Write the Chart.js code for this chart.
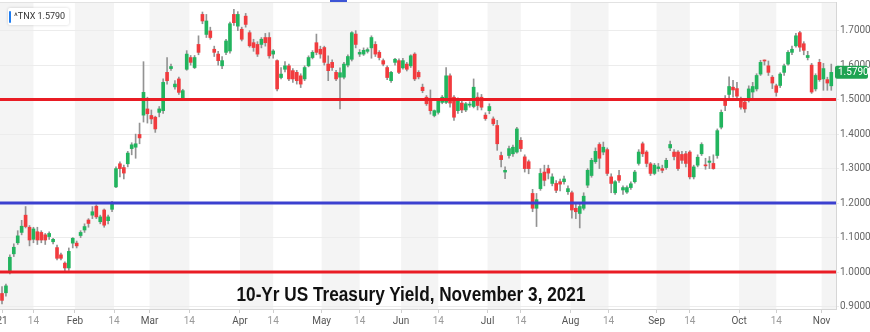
<!DOCTYPE html>
<html>
<head>
<meta charset="utf-8">
<script src="https://cdn.jsdelivr.net/npm/chart.js@4/dist/chart.umd.min.js"></script>
<style>
  body { margin: 0; background: #fff; }
  #wrap { position: relative; width: 870px; height: 332px; overflow: hidden; }
  #legend {
    position: absolute; left: 8px; top: 8px; height: 17px; padding: 0 4px 0 6px;
    background: #fff; box-shadow: 0 0 3px rgba(0,0,0,0.18); border-radius: 2px;
    font: 9px Roboto, sans-serif; color: #333; line-height: 17px; white-space: pre;
  }
  #legend .tag { position: absolute; left: 1px; top: 3px; width: 2px; height: 12px; background: #1e7cf0; border-radius: 1px; }
  #title {
    position: absolute; left: 411px; top: 283px; white-space: nowrap;
    font: bold 20px "Liberation Sans", Arial, sans-serif; color: #111;
    transform: translateX(-50%) scaleX(0.86);
  }
  #topmark { position: absolute; left: 330px; top: 0; width: 17px; height: 2px; background: #3d55d6; }
</style>
</head>
<body>
<div id="wrap">
  <canvas id="chart" width="870" height="332"></canvas>
  <div id="legend"><span class="tag"></span></div>
  <div id="title">10-Yr US Treasury Yield, November 3, 2021</div>
  <div id="topmark"></div>
</div>
<script>
// trading days, Jan 4 - Nov 3 2021 (MM-DD)
const dates = (
  '01-04 01-05 01-06 01-07 01-08 01-11 01-12 01-13 01-14 01-15 01-19 01-20 01-21 01-22 01-25 01-26 01-27 01-28 01-29 ' +
  '02-01 02-02 02-03 02-04 02-05 02-08 02-09 02-10 02-11 02-12 02-16 02-17 02-18 02-19 02-22 02-23 02-24 02-25 02-26 ' +
  '03-01 03-02 03-03 03-04 03-05 03-08 03-09 03-10 03-11 03-12 03-15 03-16 03-17 03-18 03-19 03-22 03-23 03-24 03-25 03-26 03-29 03-30 03-31 ' +
  '04-01 04-05 04-06 04-07 04-08 04-09 04-12 04-13 04-14 04-15 04-16 04-19 04-20 04-21 04-22 04-23 04-26 04-27 04-28 04-29 04-30 ' +
  '05-03 05-04 05-05 05-06 05-07 05-10 05-11 05-12 05-13 05-14 05-17 05-18 05-19 05-20 05-21 05-24 05-25 05-26 05-27 05-28 ' +
  '06-01 06-02 06-03 06-04 06-07 06-08 06-09 06-10 06-11 06-14 06-15 06-16 06-17 06-18 06-21 06-22 06-23 06-24 06-25 06-28 06-29 06-30 ' +
  '07-01 07-02 07-06 07-07 07-08 07-09 07-12 07-13 07-14 07-15 07-16 07-19 07-20 07-21 07-22 07-23 07-26 07-27 07-28 07-29 07-30 ' +
  '08-02 08-03 08-04 08-05 08-06 08-09 08-10 08-11 08-12 08-13 08-16 08-17 08-18 08-19 08-20 08-23 08-24 08-25 08-26 08-27 08-30 08-31 ' +
  '09-01 09-02 09-03 09-07 09-08 09-09 09-10 09-13 09-14 09-15 09-16 09-17 09-20 09-21 09-22 09-23 09-24 09-27 09-28 09-29 09-30 ' +
  '10-01 10-04 10-05 10-06 10-07 10-08 10-11 10-12 10-13 10-14 10-15 10-18 10-19 10-20 10-21 10-22 10-25 10-26 10-27 10-28 10-29 ' +
  '11-01 11-02 11-03'
).split(' ');

const open = [
  .938,.940,1.000,1.053,1.085,1.115,1.165,1.130,1.095,1.117,1.115,1.108,1.103,1.088,1.071,1.050,1.026,1.012,1.084,
  1.084,1.106,1.122,1.151,1.165,1.191,1.146,1.180,1.149,1.182,1.247,1.314,1.303,1.314,1.358,1.362,1.399,1.455,1.473,
  1.454,1.449,1.463,1.468,1.579,1.590,1.537,1.560,1.502,1.588,1.622,1.593,1.660,1.747,1.689,1.699,1.646,1.632,1.598,1.637,1.641,1.747,1.713,
  1.704,1.742,1.694,1.665,1.660,1.660,1.680,1.680,1.632,1.613,1.564,1.588,1.598,1.584,1.579,1.569,1.560,1.598,1.622,1.665,1.646,
  1.651,1.603,1.608,1.579,1.565,1.565,1.600,1.617,1.690,1.632,1.632,1.640,1.650,1.660,1.637,1.613,1.593,1.555,1.608,1.613,
  1.592,1.603,1.598,1.632,1.579,1.536,1.507,1.497,1.454,1.463,1.492,1.492,1.569,1.507,1.468,1.490,1.470,1.484,1.480,1.507,1.507,1.455,
  1.468,1.444,1.425,1.338,1.290,1.338,1.343,1.348,1.382,1.334,1.320,1.228,1.185,1.242,1.290,1.300,1.257,1.257,1.262,1.262,1.233,
  1.230,1.185,1.170,1.185,1.252,1.280,1.320,1.370,1.348,1.355,1.276,1.230,1.280,1.238,1.232,1.245,1.262,1.315,1.372,1.348,1.314,1.286,
  1.300,1.300,1.303,1.360,1.348,1.348,1.341,1.343,1.348,1.276,1.310,1.343,1.310,1.318,1.315,1.338,1.420,1.497,1.515,1.536,1.532,
  1.497,1.493,1.497,1.522,1.531,1.574,1.613,1.598,1.565,1.540,1.541,1.579,1.603,1.637,1.656,1.694,1.662,1.622,1.600,1.531,1.608,
  1.560,1.558,1.540
];
const high = [
  .958,.965,1.050,1.082,1.120,1.150,1.190,1.135,1.130,1.130,1.120,1.112,1.117,1.098,1.078,1.055,1.030,1.070,1.100,
  1.090,1.120,1.140,1.155,1.190,1.195,1.165,1.183,1.165,1.205,1.305,1.320,1.310,1.350,1.375,1.400,1.432,1.610,1.507,
  1.470,1.452,1.480,1.560,1.622,1.603,1.555,1.565,1.530,1.642,1.628,1.628,1.685,1.754,1.747,1.710,1.655,1.640,1.625,1.675,1.725,1.762,1.755,
  1.710,1.750,1.700,1.675,1.668,1.680,1.692,1.694,1.645,1.615,1.593,1.610,1.603,1.590,1.585,1.575,1.598,1.627,1.642,1.690,1.655,
  1.655,1.627,1.615,1.585,1.592,1.608,1.630,1.697,1.700,1.645,1.650,1.650,1.685,1.668,1.642,1.618,1.598,1.582,1.620,1.618,
  1.620,1.608,1.630,1.636,1.584,1.545,1.512,1.528,1.470,1.500,1.512,1.593,1.575,1.512,1.505,1.500,1.492,1.494,1.560,1.520,1.515,1.462,
  1.488,1.450,1.440,1.348,1.305,1.365,1.368,1.420,1.390,1.340,1.325,1.240,1.228,1.300,1.310,1.310,1.285,1.265,1.270,1.278,1.250,
  1.235,1.200,1.200,1.230,1.300,1.330,1.360,1.375,1.377,1.360,1.285,1.265,1.295,1.250,1.250,1.262,1.295,1.355,1.377,1.352,1.318,1.315,
  1.315,1.310,1.330,1.380,1.355,1.352,1.350,1.350,1.352,1.310,1.340,1.375,1.330,1.335,1.340,1.415,1.470,1.512,1.566,1.556,1.550,
  1.507,1.500,1.540,1.550,1.575,1.614,1.615,1.612,1.570,1.545,1.578,1.603,1.642,1.655,1.692,1.698,1.668,1.640,1.605,1.575,1.617,
  1.605,1.565,1.603
];
const low = [
  .908,.930,.995,1.045,1.080,1.108,1.128,1.076,1.085,1.080,1.085,1.080,1.095,1.082,1.035,1.035,1.002,1.005,1.070,
  1.070,1.100,1.115,1.130,1.155,1.155,1.140,1.130,1.140,1.175,1.245,1.276,1.270,1.305,1.340,1.330,1.372,1.435,1.432,
  1.430,1.405,1.450,1.460,1.545,1.585,1.530,1.515,1.498,1.585,1.600,1.590,1.630,1.720,1.680,1.675,1.625,1.600,1.590,1.630,1.635,1.715,1.700,
  1.670,1.710,1.652,1.640,1.625,1.650,1.655,1.620,1.620,1.525,1.560,1.580,1.555,1.550,1.545,1.535,1.555,1.595,1.618,1.630,1.620,
  1.600,1.555,1.585,1.555,1.473,1.560,1.595,1.612,1.650,1.625,1.628,1.635,1.620,1.625,1.615,1.598,1.558,1.550,1.600,1.575,
  1.588,1.583,1.593,1.555,1.560,1.520,1.483,1.458,1.450,1.458,1.488,1.488,1.478,1.440,1.460,1.462,1.465,1.478,1.476,1.470,1.470,1.440,
  1.459,1.425,1.353,1.305,1.271,1.330,1.335,1.345,1.350,1.290,1.285,1.175,1.132,1.237,1.250,1.270,1.250,1.230,1.235,1.255,1.225,
  1.156,1.155,1.128,1.180,1.245,1.275,1.315,1.300,1.340,1.280,1.230,1.225,1.260,1.225,1.228,1.240,1.258,1.310,1.335,1.305,1.280,1.282,
  1.292,1.288,1.298,1.352,1.325,1.295,1.315,1.305,1.270,1.270,1.305,1.338,1.298,1.300,1.298,1.330,1.415,1.468,1.505,1.507,1.505,
  1.472,1.463,1.493,1.505,1.525,1.570,1.600,1.570,1.532,1.510,1.535,1.570,1.600,1.630,1.652,1.640,1.630,1.615,1.518,1.525,1.553,
  1.527,1.527,1.527
];
const close = [
  .918,.960,1.043,1.072,1.105,1.133,1.132,1.093,1.125,1.093,1.093,1.093,1.112,1.095,1.040,1.040,1.012,1.060,1.098,
  1.076,1.115,1.132,1.141,1.175,1.160,1.160,1.136,1.160,1.197,1.300,1.300,1.287,1.345,1.369,1.372,1.389,1.521,1.459,
  1.444,1.415,1.473,1.550,1.555,1.596,1.545,1.521,1.526,1.632,1.608,1.622,1.637,1.728,1.728,1.680,1.637,1.613,1.613,1.670,1.720,1.723,1.747,
  1.675,1.718,1.656,1.651,1.632,1.675,1.665,1.627,1.641,1.531,1.574,1.598,1.560,1.560,1.555,1.545,1.593,1.622,1.637,1.637,1.632,
  1.608,1.584,1.593,1.560,1.578,1.603,1.625,1.694,1.660,1.637,1.643,1.645,1.680,1.632,1.622,1.603,1.564,1.579,1.617,1.579,
  1.613,1.588,1.627,1.560,1.566,1.526,1.488,1.468,1.468,1.497,1.507,1.569,1.490,1.449,1.497,1.470,1.488,1.487,1.536,1.483,1.478,1.445,
  1.480,1.430,1.372,1.326,1.295,1.358,1.362,1.415,1.358,1.300,1.300,1.185,1.210,1.286,1.266,1.287,1.276,1.237,1.255,1.270,1.242,
  1.180,1.175,1.190,1.220,1.295,1.324,1.350,1.330,1.362,1.286,1.257,1.262,1.266,1.245,1.245,1.256,1.290,1.348,1.343,1.315,1.286,1.310,
  1.305,1.295,1.324,1.370,1.335,1.300,1.324,1.315,1.276,1.305,1.333,1.370,1.308,1.322,1.300,1.410,1.463,1.483,1.538,1.528,1.510,
  1.478,1.473,1.531,1.538,1.570,1.608,1.612,1.579,1.548,1.521,1.574,1.598,1.637,1.646,1.685,1.652,1.643,1.628,1.522,1.570,1.558,
  1.590,1.548,1.579
];

const tickDates = ['01-04','01-14','02-01','02-14','03-01','03-14','04-01','04-14','05-01','05-14','06-01','06-14',
                   '07-01','07-14','08-01','08-14','09-01','09-14','10-01','10-14','11-01'];
const tickLabels = ['21','14','Feb','14','Mar','14','Apr','14','May','14','Jun','14','Jul','14','Aug','14','Sep','14','Oct','14','Nov'];
const yTicks = [0.9, 1.0, 1.1, 1.2, 1.3, 1.4, 1.5, 1.6, 1.7];
const levels = [1.5, 1.2, 1.0];
const levelColors = ['#e91c24', '#3b40cf', '#e91c24'];
const symbol = '^TNX';

const GREEN = '#22b45e', RED = '#f13b3e';

const dayNum = md => Date.UTC(2021, +md.slice(0, 2) - 1, +md.slice(3)) / 864e5;

// position of a calendar date on the trading-day index axis
function tickPos(md) {
  const i = dates.indexOf(md);
  if (i >= 0) return md.endsWith('-01') ? i - 0.45 : i;
  const t = dayNum(md);
  const k = dates.findIndex(d => dayNum(d) > t);
  const t0 = dayNum(dates[k - 1]), t1 = dayNum(dates[k]);
  return k - 1 + (t - t0) / (t1 - t0);
}
const tickIdx = tickDates.map(tickPos);

const X_MIN = -0.51, X_MAX = 212.2;
const last = close.length - 1;

document.getElementById('legend').append(symbol + ' ' + close[last].toFixed(4));

// shaded half-month bands + top border
const bands = {
  id: 'bands',
  beforeDraw(chart) {
    const { ctx, chartArea: a, scales: { x } } = chart;
    ctx.save();
    ctx.fillStyle = '#f4f4f4';
    for (let k = 0; k < tickIdx.length; k += 2) {
      const x0 = k === 0 ? a.left : x.getPixelForValue(tickIdx[k]);
      const x1 = k + 1 < tickIdx.length ? x.getPixelForValue(tickIdx[k + 1]) : a.right;
      ctx.fillRect(x0, a.top, x1 - x0, a.bottom - a.top);
    }
    ctx.strokeStyle = '#e2e2e2';
    ctx.lineWidth = 1;
    ctx.beginPath();
    ctx.moveTo(a.left, a.top + 0.5);
    ctx.lineTo(a.right, a.top + 0.5);
    ctx.stroke();
    ctx.restore();
  }
};

// last price tag on the right axis
const priceTag = {
  id: 'priceTag',
  afterDraw(chart) {
    const { ctx, chartArea: a, scales: { y } } = chart;
    const py = y.getPixelForValue(close[last]);
    ctx.save();
    ctx.fillStyle = '#1ea352';
    ctx.beginPath();
    ctx.roundRect(a.right - 1, py - 6.5, 33, 13, 2);
    ctx.fill();
    ctx.fillStyle = '#fff';
    ctx.font = '10px Roboto, sans-serif';
    ctx.textBaseline = 'middle';
    ctx.fillText(close[last].toFixed(4), a.right + 2, py + 0.5);
    ctx.restore();
  }
};

const levelSets = levels.map((lv, i) => ({
  type: 'line',
  data: [{ x: X_MIN, y: lv }, { x: X_MAX, y: lv }],
  borderColor: levelColors[i],
  borderWidth: 3,
  pointRadius: 0,
  order: 0
}));

new Chart(document.getElementById('chart'), {
  type: 'bar',
  data: {
    datasets: [
      {
        data: dates.map((d, i) => ({ x: i, y: [low[i], high[i]] })),
        backgroundColor: '#939393',
        barThickness: 1,
        grouped: false,
        order: 2
      },
      {
        data: dates.map((d, i) => ({ x: i, y: [open[i], close[i]] })),
        backgroundColor: dates.map((d, i) => close[i] >= open[i] ? GREEN : RED),
        barThickness: 3,
        minBarLength: 1,
        grouped: false,
        order: 1
      },
      ...levelSets
    ]
  },
  options: {
    responsive: false,
    devicePixelRatio: 1,
    animation: false,
    layout: { padding: { top: 2, left: 0, right: 0, bottom: 0 } },
    plugins: { legend: { display: false }, tooltip: { enabled: false } },
    scales: {
      x: {
        type: 'linear',
        min: X_MIN,
        max: X_MAX,
        offset: false,
        grid: { display: true, drawOnChartArea: false, offset: false, tickLength: 4, color: '#cfcfcf' },
        border: { display: true, color: '#d6d6d6' },
        afterBuildTicks: s => { s.ticks = tickIdx.map(v => ({ value: v })); },
        afterFit: s => { s.height = 23; s.paddingLeft = 0; s.paddingRight = 0; },
        ticks: {
          autoSkip: false,
          maxRotation: 0,
          padding: 2,
          font: { family: 'Roboto', size: 10 },
          color: c => tickLabels[c.index] === '14' ? '#9a9a9a' : '#555',
          callback: (v, i) => tickLabels[i]
        }
      },
      y: {
        type: 'linear',
        position: 'right',
        min: 0.893,
        max: 1.783,
        grid: { color: '#ececec', tickLength: 3 },
        border: { display: true, color: '#d6d6d6' },
        afterBuildTicks: s => { s.ticks = yTicks.map(v => ({ value: v })); },
        afterFit: s => { s.width = 34; s.paddingTop = 0; s.paddingBottom = 0; },
        ticks: {
          padding: 1,
          font: { family: 'Roboto', size: 10 },
          color: '#666',
          callback: v => v.toFixed(4)
        }
      }
    }
  },
  plugins: [bands, priceTag]
});
</script>
</body>
</html>
